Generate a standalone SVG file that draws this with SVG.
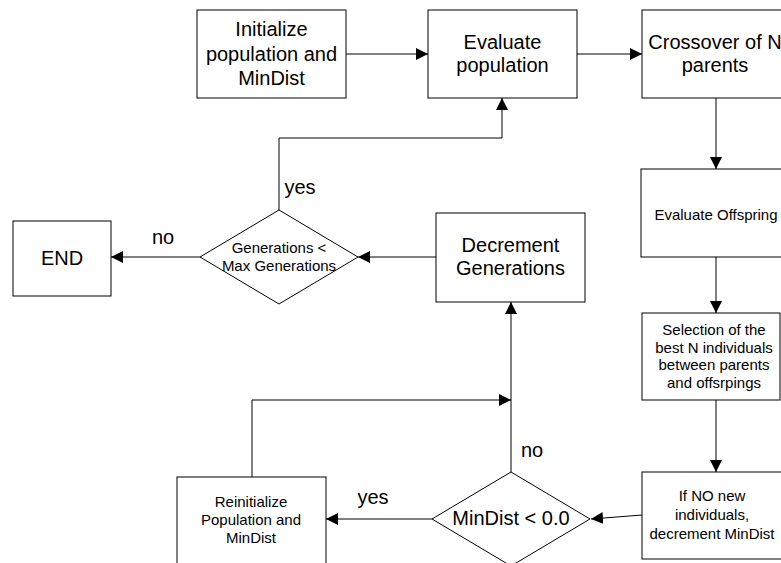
<svg xmlns="http://www.w3.org/2000/svg" width="781" height="563" viewBox="0 0 781 563">
<style>
.box{fill:#fff;stroke:#000;stroke-width:1}
.lg{font-family:"Liberation Sans",Arial,sans-serif;font-size:20px;fill:#000;text-anchor:middle}
.sm{font-family:"Liberation Sans",Arial,sans-serif;font-size:15px;fill:#000;text-anchor:middle}
.con{fill:none;stroke:#000;stroke-width:1}
</style>
<defs>
<marker id="ah" markerUnits="userSpaceOnUse" markerWidth="13" markerHeight="12" refX="12" refY="6" orient="auto">
<path d="M0,0 L12,6 L0,12 z" fill="#000"/>
</marker>
</defs>
<rect width="781" height="563" fill="#fff"/>
<g id="connectors">
<path class="con" d="M346,54 L428,54" marker-end="url(#ah)"/>
<path class="con" d="M577,54 L642,54" marker-end="url(#ah)"/>
<path class="con" d="M716,98 L716,169" marker-end="url(#ah)"/>
<path class="con" d="M716,257 L716,313" marker-end="url(#ah)"/>
<path class="con" d="M716,400 L716,472" marker-end="url(#ah)"/>
<path class="con" d="M642,515 L591,519" marker-end="url(#ah)"/>
<path class="con" d="M432,519 L326,519" marker-end="url(#ah)"/>
<path class="con" d="M511,472 L511,302" marker-end="url(#ah)"/>
<path class="con" d="M252,477 L252,400 L511,400" marker-end="url(#ah)"/>
<path class="con" d="M436,257 L358,257" marker-end="url(#ah)"/>
<path class="con" d="M200,257 L111,257" marker-end="url(#ah)"/>
<path class="con" d="M279,210 L279,138 L502,138 L502,98" marker-end="url(#ah)"/>
<text class="lg" x="300" y="194">yes</text>
<text class="lg" x="163" y="244">no</text>
<text class="lg" x="373" y="504">yes</text>
<text class="lg" x="532" y="457">no</text>
</g>
<g id="init">
<rect class="box" x="197" y="10" width="149" height="88"/>
<text class="lg" x="271.5" y="36">Initialize</text>
<text class="lg" x="271.5" y="61">population and</text>
<text class="lg" x="271.5" y="85">MinDist</text>
</g>
<g id="evaluate">
<rect class="box" x="428" y="10" width="149" height="88"/>
<text class="lg" x="502.5" y="49">Evaluate</text>
<text class="lg" x="502.5" y="72">population</text>
</g>
<g id="crossover">
<rect class="box" x="642" y="10" width="148" height="88"/>
<text class="lg" x="715" y="49">Crossover of N</text>
<text class="lg" x="715" y="72">parents</text>
</g>
<g id="evaloffspring">
<rect class="box" x="641" y="169" width="149" height="88"/>
<text class="sm" x="716" y="220">Evaluate Offspring</text>
</g>
<g id="selection">
<rect class="box" x="642" y="313" width="138" height="87"/>
<text class="sm" x="714" y="335">Selection of the</text>
<text class="sm" x="714" y="353">best N individuals</text>
<text class="sm" x="714" y="370">between parents</text>
<text class="sm" x="714" y="388">and offsrpings</text>
</g>
<g id="ifno">
<rect class="box" x="642" y="472" width="148" height="87"/>
<text class="sm" x="712" y="501">If NO new</text>
<text class="sm" x="712" y="520">individuals,</text>
<text class="sm" x="712" y="539">decrement MinDist</text>
</g>
<g id="mindist">
<polygon class="box" points="511,472 590,519 511,566 432,519"/>
<text class="lg" x="511" y="525">MinDist &lt; 0.0</text>
</g>
<g id="reinit">
<rect class="box" x="177" y="477" width="149" height="95"/>
<text class="sm" x="251" y="507">Reinitialize</text>
<text class="sm" x="251" y="525">Population and</text>
<text class="sm" x="251" y="543">MinDist</text>
</g>
<g id="decrement">
<rect class="box" x="436" y="213" width="149" height="89"/>
<text class="lg" x="510.5" y="252">Decrement</text>
<text class="lg" x="510.5" y="275">Generations</text>
</g>
<g id="generations">
<polygon class="box" points="279,210 358,257 279,304 200,257"/>
<text class="sm" x="279" y="253">Generations &lt;</text>
<text class="sm" x="279" y="271">Max Generations</text>
</g>
<g id="end">
<rect class="box" x="13" y="221" width="98" height="75"/>
<text class="lg" x="62" y="265">END</text>
</g>
</svg>
